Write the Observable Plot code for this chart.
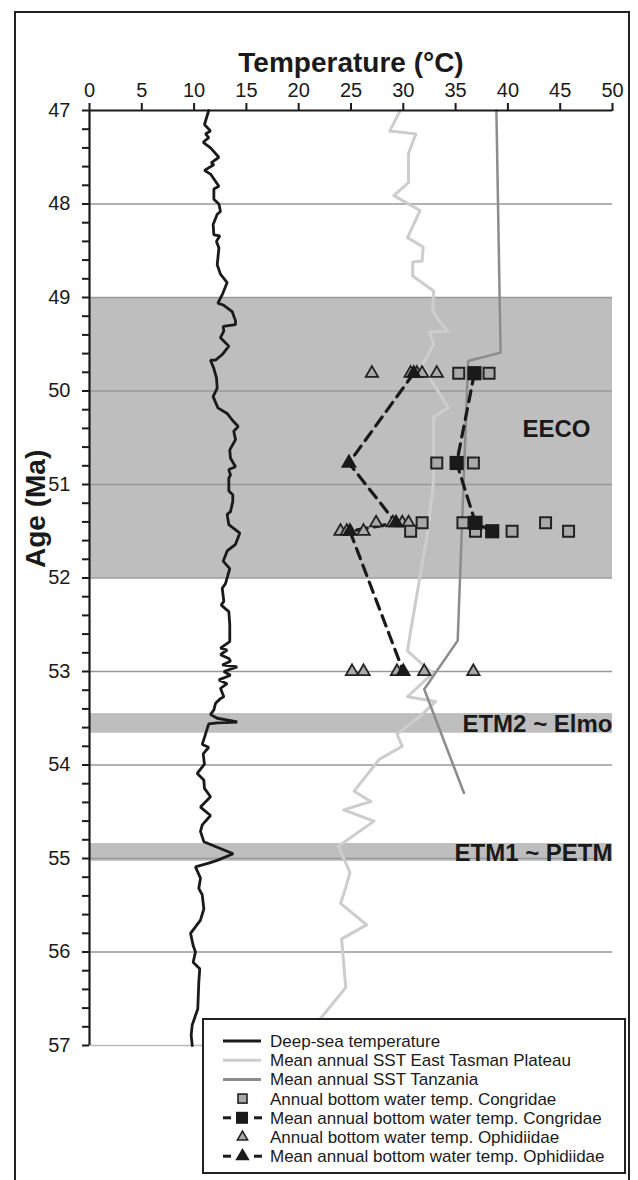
<!DOCTYPE html>
<html><head><meta charset="utf-8">
<script src="https://cdn.jsdelivr.net/npm/d3@7"></script>
<script src="https://cdn.jsdelivr.net/npm/@observablehq/plot@0.6"></script>
<style>
body{margin:0;background:#fff;font-family:Arial,"Liberation Sans",sans-serif;}
#wrap{position:relative;width:638px;height:1180px;overflow:hidden;}
#frame{position:absolute;left:14px;top:11px;width:616px;height:1180px;border:2px solid #222;box-sizing:border-box;pointer-events:none;}
#legend{position:absolute;left:202px;top:1018px;width:424px;height:156px;background:#fff;border:2px solid #222;box-sizing:border-box;}
</style></head><body><div id="wrap"></div>
<script>
// ---- data ----
const xTicks = [0, 5, 10, 15, 20, 25, 30, 35, 40, 45, 50];
const yMajor = [47, 48, 49, 50, 51, 52, 53, 54, 55, 56, 57];
const gridAges = [48, 49, 50, 51, 52, 53, 54, 55, 56];
const bandLabels = ["EECO", "ETM2 ~ Elmo", "ETM1 ~ PETM"];
const bandStart = [49, 53.45, 54.84];
const bandEnd = [52, 53.66, 55.03];

// [age (Ma), temperature (°C)]
const deepSea = [[47.00,11.40],[47.15,10.99],[47.22,11.57],[47.25,11.09],[47.29,11.40],[47.34,10.87],[47.40,11.57],[47.50,12.37],[47.56,11.63],[47.58,11.89],[47.64,10.99],[47.68,11.57],[47.81,12.37],[47.84,11.89],[47.95,11.89],[48.00,12.37],[48.08,12.52],[48.11,12.21],[48.22,11.82],[48.33,11.89],[48.34,12.46],[48.40,12.14],[48.47,12.37],[48.65,12.21],[48.75,12.52],[48.84,13.16],[48.97,12.69],[49.06,12.27],[49.08,12.78],[49.15,13.64],[49.25,13.96],[49.29,13.96],[49.31,12.78],[49.36,12.84],[49.43,12.52],[49.52,13.32],[49.61,12.69],[49.67,12.05],[49.67,11.57],[49.76,11.89],[49.86,12.14],[49.97,12.21],[50.06,11.82],[50.18,12.27],[50.24,13.16],[50.31,13.64],[50.38,14.22],[50.43,13.79],[50.52,13.96],[50.63,13.41],[50.72,13.48],[50.81,13.96],[50.84,13.32],[50.90,13.48],[50.93,13.32],[51.07,13.32],[51.11,13.70],[51.18,13.70],[51.29,13.48],[51.32,13.16],[51.43,13.32],[51.52,14.37],[51.64,13.96],[51.71,13.16],[51.82,12.78],[51.90,13.41],[52.06,13.00],[52.11,12.69],[52.25,12.84],[52.29,12.59],[52.36,13.32],[52.50,13.41],[52.68,13.41],[52.75,12.52],[52.77,13.16],[52.82,12.52],[52.86,13.32],[52.89,13.48],[52.93,12.69],[52.95,14.12],[53.00,12.84],[53.04,13.48],[53.09,12.37],[53.13,13.16],[53.18,12.52],[53.27,12.84],[53.29,12.52],[53.34,12.05],[53.41,11.89],[53.46,11.57],[53.50,12.21],[53.54,14.12],[53.55,12.21],[53.56,11.40],[53.67,11.09],[53.78,10.78],[53.81,11.40],[53.88,10.87],[53.99,10.99],[54.09,10.30],[54.16,10.93],[54.25,10.99],[54.34,11.57],[54.45,10.61],[54.54,11.57],[54.64,10.78],[54.71,10.61],[54.82,10.93],[54.88,12.21],[54.95,13.74],[55.02,12.21],[55.05,11.40],[55.09,10.13],[55.21,10.61],[55.32,10.45],[55.39,10.78],[55.54,10.93],[55.66,10.61],[55.80,9.66],[55.93,9.91],[56.00,10.13],[56.11,9.91],[56.18,10.54],[56.32,10.45],[56.61,10.35],[56.68,10.13],[56.78,9.82],[56.89,9.72],[57.00,9.82]];

const sstTasman = [[47.00,29.7],[47.22,28.7],[47.25,31.2],[47.46,30.5],[47.77,30.5],[47.91,29.1],[48.07,31.6],[48.36,30.4],[48.46,31.9],[48.61,31.8],[48.62,30.9],[48.77,30.9],[48.93,32.9],[49.14,32.8],[49.25,33.4],[49.36,34.3],[49.37,32.5],[49.50,32.9],[49.73,31.8],[50.18,34.3],[50.28,32.9],[50.96,32.9],[51.53,32.3],[52.57,30.7],[52.78,30.4],[53.02,32.8],[53.27,30.4],[53.32,33.1],[53.48,31.6],[53.67,29.4],[53.80,29.9],[53.94,27.7],[54.28,25.3],[54.39,26.9],[54.48,24.3],[54.60,27.2],[54.87,23.8],[55.15,24.9],[55.31,24.5],[55.48,24.0],[55.71,26.5],[55.86,24.1],[56.38,24.5],[56.71,22.1]];

const sstTanzania = [[47.00,38.9],[49.59,39.3],[49.68,36.2],[52.67,35.2],[53.19,32.0],[54.30,35.8]];

const congridaeInd = [[49.81,35.3],[49.81,36.8],[49.81,38.2],[50.77,33.2],[50.77,36.7],[51.41,31.8],[51.41,35.7],[51.41,43.6],[51.50,30.7],[51.50,36.9],[51.50,40.4],[51.50,45.8]];
const congridaeMean = [[49.81,36.8],[50.77,35.1],[51.41,36.9],[51.50,38.5]];
const ophidiidaeInd = [[49.81,27.0],[49.81,30.7],[49.81,31.3],[49.81,31.8],[49.81,33.2],[50.77,24.8],[51.41,27.4],[51.41,29.0],[51.41,29.9],[51.41,30.5],[51.50,24.0],[51.50,24.6],[51.50,26.2],[53.00,25.1],[53.00,26.2],[53.00,29.4],[53.00,32.0],[53.00,36.7]];
const ophidiidaeMean = [[49.81,31.0],[50.77,24.8],[51.41,29.3],[51.50,24.9],[53.00,30.0]];

const legendLabels = ["Deep-sea temperature","Mean annual SST East Tasman Plateau","Mean annual SST Tanzania","Annual bottom water temp. Congridae","Mean annual bottom water temp. Congridae","Annual bottom water temp. Ophidiidae","Mean annual bottom water temp. Ophidiidae"];

// ---- build ----
const pts = a => a.map(([age, t]) => ({age, t}));
const bands = bandLabels.map((label, i) => ({label, start: bandStart[i], end: bandEnd[i], mid: (bandStart[i] + bandEnd[i]) / 2}));
const minorTicks = d3.range(0, 51).map(i => +(47 + i / 5).toFixed(1));
const font = "Arial, 'Liberation Sans', sans-serif";
const INK = "#1a1a1a";

const plot = Plot.plot({
  width: 638, height: 1180,
  marginLeft: 89, marginRight: 26, marginTop: 110, marginBottom: 135,
  style: {fontFamily: font, background: "transparent", color: INK},
  x: {domain: [0, 50]},
  y: {domain: [47, 57], reverse: true},
  marks: [
    Plot.rect(bands, {x1: 0, x2: 50, y1: "start", y2: "end", fill: "#bebebe"}),
    Plot.ruleY(gridAges, {x1: 0, x2: 50, stroke: "#999", strokeWidth: 1.5}),
    Plot.ruleY([57], {x1: 0, x2: 50, stroke: "#bbb", strokeWidth: 1.5}),
    Plot.line(pts(sstTasman), {x: "t", y: "age", stroke: "#cdcdcd", strokeWidth: 3}),
    Plot.line(pts(sstTanzania), {x: "t", y: "age", stroke: "#8c8c8c", strokeWidth: 2.5}),
    Plot.line(pts(deepSea), {x: "t", y: "age", stroke: INK, strokeWidth: 2.8, strokeLinejoin: "miter"}),
    Plot.line(pts(ophidiidaeMean), {x: "t", y: "age", stroke: INK, strokeWidth: 3.2, strokeDasharray: "11,7"}),
    Plot.line(pts(congridaeMean), {x: "t", y: "age", stroke: INK, strokeWidth: 3.2, strokeDasharray: "11,7"}),
    Plot.dot(pts(ophidiidaeInd), {x: "t", y: "age", symbol: "triangle", r: 4.6, fill: "#a9a9a9", stroke: "#222", strokeWidth: 1.8}),
    Plot.dot(pts(congridaeInd), {x: "t", y: "age", symbol: "square", r: 6.2, fill: "#a9a9a9", stroke: "#222", strokeWidth: 2}),
    Plot.dot(pts(ophidiidaeMean), {x: "t", y: "age", symbol: "triangle", r: 5.8, fill: INK}),
    Plot.dot(pts(congridaeMean), {x: "t", y: "age", symbol: "square", r: 8, fill: INK}),
    Plot.text(bands.slice(0, 1), {x: 50, y: "mid", text: "label", textAnchor: "end", dx: -22, dy: -8, fontSize: 24, fontWeight: "bold", fill: INK}),
    Plot.text(bands.slice(1), {x: 50, y: "mid", text: "label", textAnchor: "end", dy: 1, fontSize: 24, fontWeight: "bold", fill: INK}),
    Plot.ruleY([47], {x1: 0, x2: 50, stroke: INK, strokeWidth: 2.2}),
    Plot.ruleX([0], {y1: 47, y2: 57, stroke: INK, strokeWidth: 2.2}),
    Plot.axisX(xTicks, {anchor: "top", tickSize: 8, tickPadding: 6, fontSize: 20, strokeWidth: 2, label: null}),
    Plot.axisY(minorTicks, {anchor: "left", tickSize: 7, tickPadding: 12, fontSize: 20, strokeWidth: 2, label: null,
      tickFormat: d => (Math.abs(d - Math.round(d)) < 1e-6 ? String(Math.round(d)) : "")}),
    Plot.text(["Temperature (°C)"], {frameAnchor: "top", dy: -58, fontSize: 28, fontWeight: "bold", fill: INK}),
    Plot.text(["Age (Ma)"], {frameAnchor: "left", dx: -53, dy: -10, rotate: -90, fontSize: 28, fontWeight: "bold", fill: INK})
  ]
});

const wrap = document.getElementById("wrap");
wrap.appendChild(plot);
const frame = document.createElement("div"); frame.id = "frame"; wrap.appendChild(frame);
const legend = document.createElement("div"); legend.id = "legend"; wrap.appendChild(legend);

// legend drawn with d3
const lsvg = d3.select(legend).append("svg").attr("width", 420).attr("height", 152).style("display", "block");
const kinds = ["line", "line", "line", "sq", "sqmean", "tri", "trimean"];
const lineColors = [INK, "#cdcdcd", "#8c8c8c"];
legendLabels.forEach((lab, i) => {
  const cy = 21 + i * 19.2;
  const g = lsvg.append("g");
  const k = kinds[i];
  if (k === "line") {
    g.append("line").attr("x1", 19).attr("x2", 57).attr("y1", cy).attr("y2", cy).attr("stroke", lineColors[i]).attr("stroke-width", 3);
  } else if (k === "sq") {
    g.append("rect").attr("x", 34).attr("y", cy - 4.5).attr("width", 9).attr("height", 9).attr("fill", "#a9a9a9").attr("stroke", "#222").attr("stroke-width", 1.6);
  } else if (k === "sqmean") {
    g.append("line").attr("x1", 19).attr("x2", 27).attr("y1", cy).attr("y2", cy).attr("stroke", INK).attr("stroke-width", 3);
    g.append("line").attr("x1", 50).attr("x2", 58).attr("y1", cy).attr("y2", cy).attr("stroke", INK).attr("stroke-width", 3);
    g.append("rect").attr("x", 32).attr("y", cy - 6).attr("width", 12).attr("height", 12).attr("fill", INK);
  } else if (k === "tri") {
    g.append("path").attr("transform", `translate(38.5,${cy})`).attr("d", d3.symbol(d3.symbolTriangle, 45)()).attr("fill", "#a9a9a9").attr("stroke", "#222").attr("stroke-width", 1.6);
  } else {
    g.append("line").attr("x1", 19).attr("x2", 27).attr("y1", cy).attr("y2", cy).attr("stroke", INK).attr("stroke-width", 3);
    g.append("line").attr("x1", 50).attr("x2", 58).attr("y1", cy).attr("y2", cy).attr("stroke", INK).attr("stroke-width", 3);
    g.append("path").attr("transform", `translate(38.5,${cy})`).attr("d", d3.symbol(d3.symbolTriangle, 90)()).attr("fill", INK);
  }
  g.append("text").attr("x", 66).attr("y", cy).attr("dy", "0.35em").attr("font-size", 17).attr("font-family", font).attr("fill", INK).text(lab);
});
</script></body></html>
